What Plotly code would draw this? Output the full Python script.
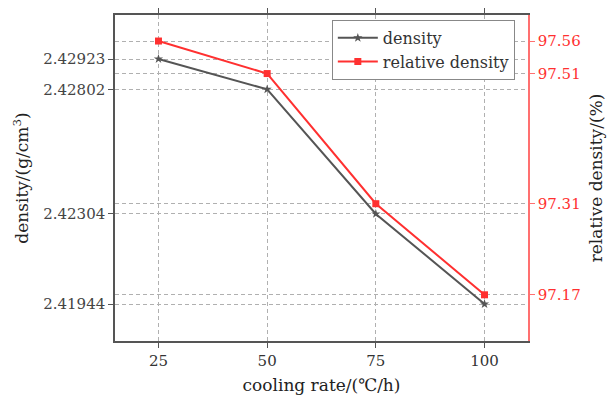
import plotly.graph_objects as go

cooling_rate = [25, 50, 75, 100]
density = [2.42923, 2.42802, 2.42304, 2.41944]
relative_density = [97.56, 97.51, 97.31, 97.17]
density_ticks = ["2.41944", "2.42304", "2.42802", "2.42923"]
rel_ticks = ["97.17", "97.31", "97.51", "97.56"]

FONT = "DejaVu Serif"
GREY = "#555555"
RED = "#ff3030"
LRED = "#ff7070"
GRID = "#b0b0b0"
DASH = "4px,3px"

fig = go.Figure()
fig.add_trace(go.Scatter(x=cooling_rate, y=density, name="density", mode="lines+markers",
                         line=dict(color=GREY, width=2),
                         marker=dict(symbol="star", size=7, color=GREY)))
fig.add_trace(go.Scatter(x=cooling_rate, y=relative_density, name="relative density",
                         mode="lines+markers", yaxis="y2",
                         line=dict(color=RED, width=2),
                         marker=dict(symbol="square", size=7, color=RED)))

fig.update_layout(
    width=608, height=397,
    margin=dict(l=115, r=80, t=15, b=56),
    paper_bgcolor="white", plot_bgcolor="white",
    font=dict(family=FONT, size=15, color="#333333"),
    xaxis=dict(range=[15, 110], tickvals=cooling_rate, ticks="outside", ticklen=5,
               tickcolor=GREY, showline=True, linecolor=GREY, linewidth=1.5,
               mirror="ticks", showgrid=True, gridcolor=GRID, griddash=DASH,
               gridwidth=1, zeroline=False, automargin=False,
               title=dict(text="cooling rate/(℃/h)", font=dict(size=17, color="#222222"), standoff=10),
               tickfont=dict(size=15, color="#333333")),
    yaxis=dict(range=[2.417962, 2.430988], tickvals=sorted(density), ticktext=density_ticks,
               ticks="outside", ticklen=5, tickcolor=GREY, showline=True, linecolor=GREY,
               linewidth=1.5, showgrid=True, gridcolor=GRID, griddash=DASH,
               zeroline=False, automargin=False,
               title=dict(text="density/(g/cm<sup>3</sup>)", font=dict(size=17, color="#222222"), standoff=10),
               tickfont=dict(size=15, color="#444444")),
    yaxis2=dict(range=[97.099, 97.600], tickvals=sorted(relative_density), ticktext=rel_ticks,
                overlaying="y", side="right", ticks="outside", ticklen=5, tickcolor=LRED,
                showline=True, linecolor=LRED, linewidth=1.5, showgrid=True,
                gridcolor=GRID, griddash=DASH, zeroline=False, automargin=False,
                title=dict(text="relative density/(%)", font=dict(size=17, color="#222222"), standoff=10),
                tickfont=dict(size=15, color=RED)),
    legend=dict(x=0.525, y=0.985, xanchor="left", yanchor="top", bgcolor="white",
                bordercolor="#888888", borderwidth=1, font=dict(size=16),
                tracegroupgap=0, itemwidth=40),
    showlegend=True,
)
fig.write_html("out.html")
